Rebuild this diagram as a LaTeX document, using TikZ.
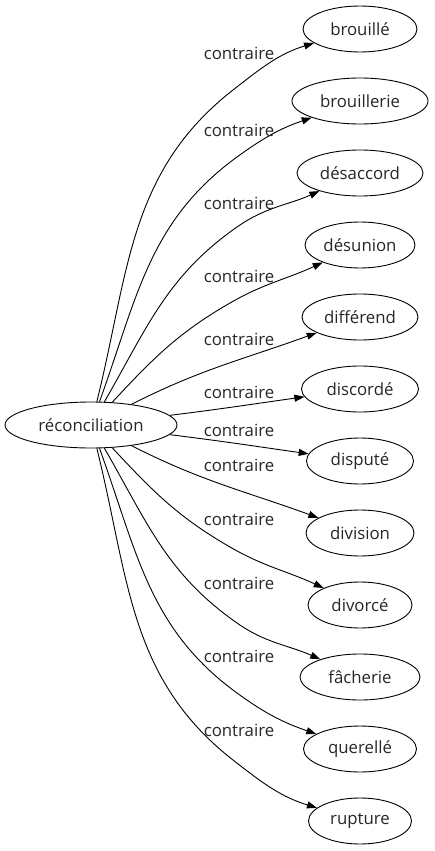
\documentclass[tikz,border=0pt]{standalone}
\usepackage{fontspec}
\setmainfont{Open Sans}
\usetikzlibrary{arrows.meta,shapes.geometric}
\begin{document}
\begin{tikzpicture}[x=1pt,y=1pt,
  every node/.style={font=\fontsize{16.8}{19}\selectfont, text=black!85},
  ell/.style={ellipse,draw,line width=0.9pt,inner sep=0pt,minimum height=46pt},
  lbl/.style={inner sep=0pt},
  edge/.style={line width=0.9pt,-{Triangle[length=10pt,width=7pt]}}]
\useasboundingbox (0,0) rectangle (434,-851);
\node[ell,minimum width=172pt] (r) at (91,-425) {réconciliation};
\node[ell,minimum width=114pt] (t1) at (360,-29) {brouillé};
\node[ell,minimum width=136pt] (t2) at (360,-101) {brouillerie};
\node[ell,minimum width=126pt] (t3) at (360,-173) {désaccord};
\node[ell,minimum width=110pt] (t4) at (360,-245) {désunion};
\node[ell,minimum width=116pt] (t5) at (360,-317) {différend};
\node[ell,minimum width=117pt] (t6) at (360,-389) {discordé};
\node[ell,minimum width=107pt] (t7) at (360,-461) {disputé};
\node[ell,minimum width=108pt] (t8) at (360,-533) {division};
\node[ell,minimum width=104pt] (t9) at (360,-605) {divorcé};
\node[ell,minimum width=120pt] (t10) at (360,-677) {fâcherie};
\node[ell,minimum width=113pt] (t11) at (360,-749) {querellé};
\node[ell,minimum width=103pt] (t12) at (360,-821) {rupture};
\coordinate (m1) at (233,-90);
\coordinate (m2) at (237,-157);
\coordinate (m3) at (237,-227);
\coordinate (m4) at (230,-303);
\coordinate (m9) at (230,-547);
\coordinate (m10) at (237,-623);
\coordinate (m11) at (237,-693);
\coordinate (m12) at (233,-760);
\draw[edge] (r) to[out=76,in=218] (m1) to[out=38,in=197] (t1);
\draw[edge] (r) to[out=70,in=216] (m2) to[out=36,in=199] (t2);
\draw[edge] (r) to[out=60,in=215] (m3) to[out=35,in=204] (t3);
\draw[edge] (r) to[out=47,in=210] (m4) to[out=30,in=205] (t4);
\draw[edge] (r) to[out=27,in=200] (t5);
\draw[edge] (r) to[out=7,in=188] (t6);
\draw[edge] (r) to[out=-7,in=172] (t7);
\draw[edge] (r) to[out=-27,in=160] (t8);
\draw[edge] (r) to[out=-47,in=150] (m9) to[out=-30,in=155] (t9);
\draw[edge] (r) to[out=-60,in=145] (m10) to[out=-35,in=156] (t10);
\draw[edge] (r) to[out=-70,in=144] (m11) to[out=-36,in=161] (t11);
\draw[edge] (r) to[out=-76,in=142] (m12) to[out=-38,in=163] (t12);
\node[lbl] (l1) at (239,-53) {contraire};
\node[lbl] (l2) at (239,-130) {contraire};
\node[lbl] (l3) at (239,-203) {contraire};
\node[lbl] (l4) at (239,-276) {contraire};
\node[lbl] (l5) at (239,-339) {contraire};
\node[lbl] (l6) at (239,-392) {contraire};
\node[lbl] (l7) at (239,-430) {contraire};
\node[lbl] (l8) at (239,-465) {contraire};
\node[lbl] (l9) at (239,-519) {contraire};
\node[lbl] (l10) at (239,-583) {contraire};
\node[lbl] (l11) at (239,-656) {contraire};
\node[lbl] (l12) at (239,-730) {contraire};
\end{tikzpicture}
\end{document}
